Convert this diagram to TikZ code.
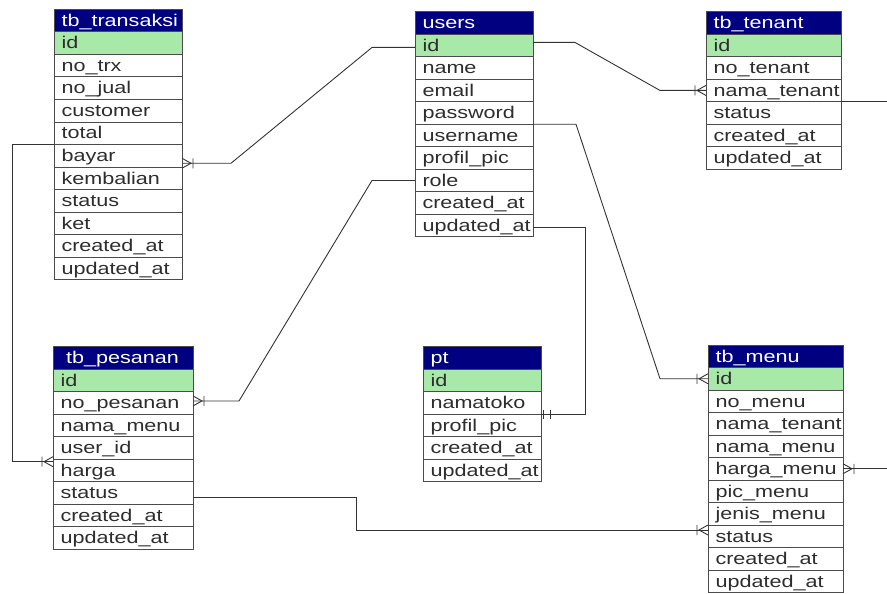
\documentclass[tikz,border=0pt]{standalone}
\usepackage{fontspec}
\newfontfamily\erfont{Liberation Sans}[FakeStretch=1.27]
\usetikzlibrary{positioning,calc}
\hyphenpenalty=10000
\exhyphenpenalty=10000
\definecolor{hdblue}{RGB}{0,0,128}
\definecolor{idgreen}{RGB}{168,232,168}
\definecolor{txtgray}{RGB}{45,45,45}
\definecolor{edgegray}{RGB}{75,75,75}
\tikzset{
  field/.style={draw=edgegray, line width=1pt, fill=white, anchor=north west,
    minimum height=22.5pt, inner xsep=7.5pt, inner ysep=0pt, outer sep=0pt,
    text height=14pt, text depth=2.5pt, align=left, text=txtgray,
    font=\erfont\fontsize{17}{20}\selectfont},
  key/.style={field, fill=idgreen},
  head/.style={field, fill=hdblue, text=white},
  rel/.style={draw=black!80, line width=0.9pt},
  crowfoot/.pic={\draw[rel] (0,-5) -- (-9,0) -- (0,5) (-11,-5) -- (-11,5);},
  oneone/.pic={\draw[rel] (-2.5,-4.5) -- (-2.5,4.5) (-9,-4.5) -- (-9,4.5);}
}
\begin{document}
\begin{tikzpicture}[x=1pt, y=-1pt]
    \useasboundingbox (0,0) rectangle (887,594);
    % tb_transaksi
    \begin{scope}[nodes={text width=113pt}]
    \node[head] (trx) at (54,9.5) {tb\_transaksi};
    \node[key, below=0pt of trx] (trx-id) {id};
    \foreach \n/\t [remember=\n as \p (initially id)] in {notrx/no\_trx, nojual/no\_jual,
        customer/customer, total/total, bayar/bayar, kembalian/kembalian, status/status,
        ket/ket, created/created\_at, updated/updated\_at}
      \node[field, below=0pt of trx-\p] (trx-\n) {\t};
    \end{scope}
    % users
    \begin{scope}[nodes={text width=103pt}]
    \node[head] (usr) at (415,11.7) {users};
    \node[key, below=0pt of usr] (usr-id) {id};
    \foreach \n/\t [remember=\n as \p (initially id)] in {name/name, email/email,
        password/password, username/username, profil/profil\_pic, role/role,
        created/created\_at, updated/updated\_at}
      \node[field, below=0pt of usr-\p] (usr-\n) {\t};
    \end{scope}
    % tb_tenant
    \begin{scope}[nodes={text width=120pt}]
    \node[head] (ten) at (706,11.7) {tb\_tenant};
    \node[key, below=0pt of ten] (ten-id) {id};
    \foreach \n/\t [remember=\n as \p (initially id)] in {notenant/no\_tenant,
        nama/nama\_tenant, status/status, created/created\_at, updated/updated\_at}
      \node[field, below=0pt of ten-\p] (ten-\n) {\t};
    \end{scope}
    % tb_pesanan
    \begin{scope}[nodes={text width=125pt}]
    \node[head] (pes) at (53,346.7) {~tb\_pesanan};
    \node[key, below=0pt of pes] (pes-id) {id};
    \foreach \n/\t [remember=\n as \p (initially id)] in {nopesanan/no\_pesanan,
        namamenu/nama\_menu, userid/user\_id, harga/harga, status/status,
        created/created\_at, updated/updated\_at}
      \node[field, below=0pt of pes-\p] (pes-\n) {\t};
    \end{scope}
    % pt
    \begin{scope}[nodes={text width=103pt}]
    \node[head] (pt) at (423,346.7) {pt};
    \node[key, below=0pt of pt] (pt-id) {id};
    \foreach \n/\t [remember=\n as \p (initially id)] in {namatoko/namatoko,
        profil/profil\_pic, created/created\_at, updated/updated\_at}
      \node[field, below=0pt of pt-\p] (pt-\n) {\t};
    \end{scope}
    % tb_menu
    \begin{scope}[nodes={text width=120pt}]
    \node[head] (mnu) at (708,345) {tb\_menu};
    \node[key, below=0pt of mnu] (mnu-id) {id};
    \foreach \n/\t [remember=\n as \p (initially id)] in {nomenu/no\_menu,
        namatenant/nama\_tenant, namamenu/nama\_menu, harga/harga\_menu,
        pic/pic\_menu, jenis/jenis\_menu, status/status, created/created\_at,
        updated/updated\_at}
      \node[field, below=0pt of mnu-\p] (mnu-\n) {\t};
    \end{scope}

    % relasi
    \coordinate (trx-in) at ($(trx-bayar.east)+(0,7.5)$);
    \draw[rel] ($(usr-id.west)+(0,2)$) -- ++(-43,0) -- ($(trx-in)+(49,0)$) -- (trx-in);
    \pic[xscale=-1] at (trx-in) {crowfoot};

    \draw[rel] ($(usr-id.east)+(0,-3)$) -- ++(42,0) -- ($(ten-nama.west)+(-46,0)$) -- (ten-nama.west);
    \pic at (ten-nama.west) {crowfoot};

    \draw[rel] (usr-password.south east) -- ++(43,0) -- ($(mnu-id.west)+(-48,0)$) -- (mnu-id.west);
    \pic at (mnu-id.west) {crowfoot};

    \coordinate (pes-in) at ($(pes-nopesanan.east)+(0,-2)$);
    \draw[rel] (usr-role.west) -- ++(-43,0) -- ($(pes-in)+(46,0)$) -- (pes-in);
    \pic[xscale=-1] at (pes-in) {crowfoot};

    \draw[rel] ($(usr-updated.east)+(0,2)$) -- ++(52,0) |- (pt-namatoko.south east);
    \pic[xscale=-1] at (pt-namatoko.south east) {oneone};

    \coordinate (harga-in) at ($(pes-harga.north west)+(0,2.5)$);
    \draw[rel] (trx-total.south west) -- ++(-42,0) |- (harga-in);
    \pic at (harga-in) {crowfoot};

    \coordinate (mnu-in) at ($(mnu-status.north west)+(0,5)$);
    \draw[rel] ($(pes-status.east)+(0,4)$) -- ++(163,0) |- (mnu-in);
    \pic at (mnu-in) {crowfoot};

    % keluar gambar
    \coordinate (rim) at (887,0);
    \draw[rel] (ten-nama.south east) -- (ten-nama.south east -| rim);
    \draw[rel] (mnu-harga.east) -- (mnu-harga.east -| rim);
    \pic[xscale=-1] at (mnu-harga.east) {crowfoot};
\end{tikzpicture}
\end{document}
